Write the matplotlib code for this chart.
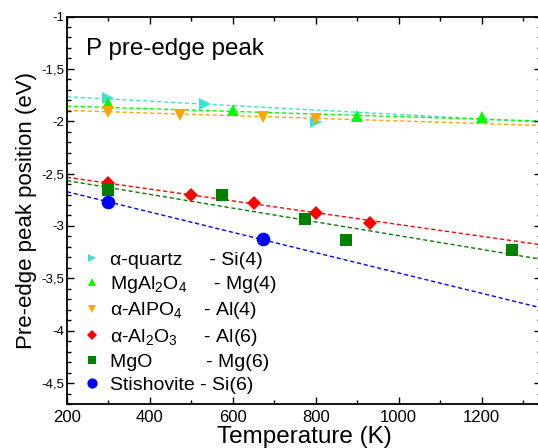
import numpy as np
import matplotlib
matplotlib.use("Agg")
import matplotlib.pyplot as plt
from matplotlib.ticker import MultipleLocator, FuncFormatter

plt.rcParams['font.family'] = ['Liberation Sans', 'DejaVu Sans']
plt.rcParams['mathtext.fontset'] = 'custom'
plt.rcParams['mathtext.rm'] = 'Liberation Sans'
plt.rcParams['mathtext.it'] = 'Liberation Sans:italic'
plt.rcParams['mathtext.default'] = 'regular'

# ---------------- data ----------------
quartz_T = [300, 533, 800]
quartz_E = [-1.775, -1.833, -2.005]
spinel_T = [300, 600, 900, 1200]
spinel_E = [-1.823, -1.894, -1.952, -1.958]
alpo4_T = [300, 473, 673, 800]
alpo4_E = [-1.915, -1.940, -1.963, -1.980]
al2o3_T = [300, 500, 650, 800, 930]
al2o3_E = [-2.587, -2.705, -2.779, -2.881, -2.971]
mgo_T = [300, 573, 773, 873, 1273]
mgo_E = [-2.657, -2.705, -2.929, -3.138, -3.234]
stish_T = [300, 673]
stish_E = [-2.769, -3.128]

# linear-fit lines: value at T=200 and slope (eV/K)
fit_T = [200, 1350]
quartz_fit = [-1.766, -0.000212]
spinel_fit = [-1.856, -0.000125]
alpo4_fit = [-1.897, -0.000125]
al2o3_fit = [-2.535, -0.000564]
mgo_fit = [-2.567, -0.000657]
stish_fit = [-2.673, -0.000970]

labels = ["\u03b1-quartz     - Si(4)",
          "MgAl$_2$O$_4$     - Mg(4)",
          "\u03b1-AlPO$_4$    - Al(4)",
          "\u03b1-Al$_2$O$_3$     - Al(6)",
          "MgO          - Mg(6)",
          "Stishovite - Si(6)"]

series = [
    (quartz_T, quartz_E, quartz_fit, '#40E0D0', '>', 8.6),
    (spinel_T, spinel_E, spinel_fit, '#00FF00', '^', 8.6),
    (alpo4_T, alpo4_E, alpo4_fit, '#FFA500', 'v', 8.6),
    (al2o3_T, al2o3_E, al2o3_fit, '#FF0000', 'D', 6.8),
    (mgo_T, mgo_E, mgo_fit, '#008000', 's', 8.4),
    (stish_T, stish_E, stish_fit, '#0000FF', 'o', 9.8),
]

W, H = 538, 448
fig = plt.figure(figsize=(W / 100, H / 100), dpi=100)
left, right, top, bottom = 66.9, 541.0, 16.5, 404.0
ax = fig.add_axes([left / W, 1 - bottom / H, (right - left) / W, (bottom - top) / H])

handles = []
for (T, E, fit, col, mk, ms), lab in zip(series, labels):
    ft = np.array(fit_T, dtype=float)
    ax.plot(ft, fit[0] + fit[1] * (ft - fit_T[0]), ls=(0, (3, 2)), lw=1.0,
            color=col, zorder=1)
    h, = ax.plot(T, E, ls='none', marker=mk, ms=ms, color=col,
                 markeredgewidth=0, label=lab, zorder=3)
    handles.append(h)

ax.set_xlim(200, 1343)
ax.set_ylim(-4.7, -1)
ax.xaxis.set_major_locator(MultipleLocator(200))
ax.xaxis.set_minor_locator(MultipleLocator(100))
ax.yaxis.set_major_locator(MultipleLocator(0.5))
ax.yaxis.set_minor_locator(MultipleLocator(0.1))
ax.yaxis.set_major_formatter(FuncFormatter(
    lambda v, p: ('%g' % v).replace('.', ',')))
ax.tick_params(which='both', direction='in', top=True, right=True, width=1.0)
ax.tick_params(which='major', length=5)
ax.tick_params(which='minor', length=3)
ax.tick_params(axis='x', labelsize=12, pad=4)
ax.tick_params(axis='y', labelsize=9.5, pad=2)
for s in ax.spines.values():
    s.set_linewidth(1.3)

ax.set_xlabel("Temperature (K)", fontsize=17.5, labelpad=1)
ax.set_ylabel("Pre-edge peak position (eV)", fontsize=16, labelpad=3)

ax.text(0.04, 0.9, "P pre-edge peak", transform=ax.transAxes,
        fontsize=17.4, va='baseline', ha='left')

ax.legend(handles=handles, loc='upper left', bbox_to_anchor=(0.0, 0.43),
          frameon=False, fontsize=14, markerscale=0.75, handlelength=1.2,
          handletextpad=0.3, labelspacing=0.28, borderaxespad=0.3)

fig.savefig("out.png", dpi=100)
